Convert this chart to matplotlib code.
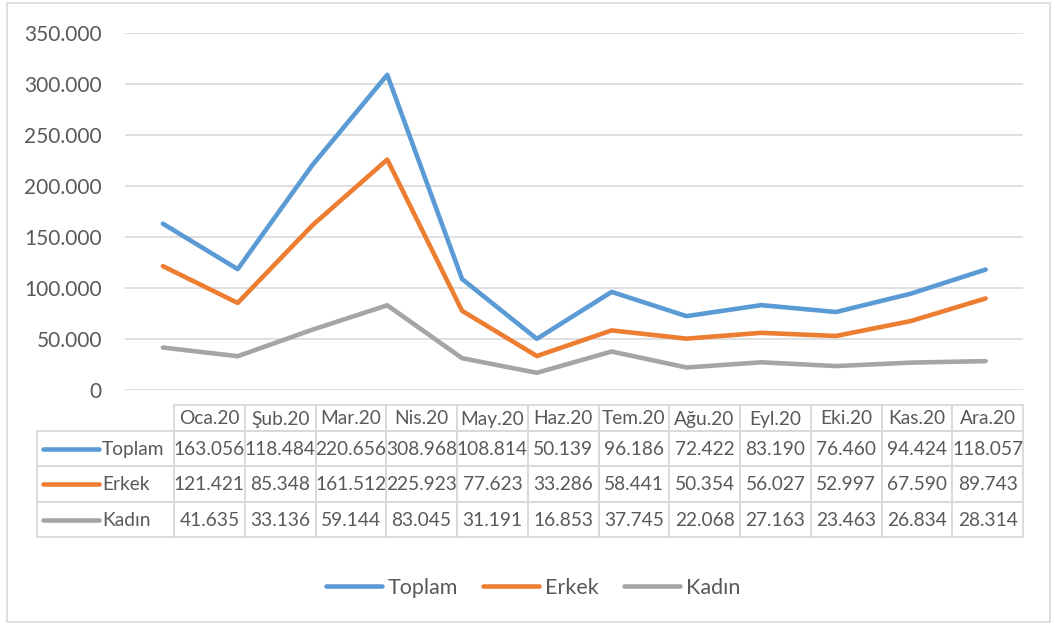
import matplotlib.pyplot as plt
from matplotlib.patches import Rectangle
from matplotlib.lines import Line2D

plt.rcParams['font.family'] = ['Lato', 'DejaVu Sans']

# data
months = ['Oca.20', 'Şub.20', 'Mar.20', 'Nis.20', 'May.20', 'Haz.20',
          'Tem.20', 'Ağu.20', 'Eyl.20', 'Eki.20', 'Kas.20', 'Ara.20']
toplam = [163056, 118484, 220656, 308968, 108814, 50139, 96186, 72422, 83190, 76460, 94424, 118057]
erkek = [121421, 85348, 161512, 225923, 77623, 33286, 58441, 50354, 56027, 52997, 67590, 89743]
kadin = [41635, 33136, 59144, 83045, 31191, 16853, 37745, 22068, 27163, 23463, 26834, 28314]
series_names = ['Toplam', 'Erkek', 'Kadın']
colors = ['#5B9BD5', '#ED7D31', '#A5A5A5']
y_ticks = [0, 50000, 100000, 150000, 200000, 250000, 300000, 350000]

TXT = '#595959'
GRID = '#D9D9D9'
W, H = 1055, 627


def fmt(v):
    return f"{v:,.0f}".replace(',', '.')


fig = plt.figure(figsize=(W / 100, H / 100), dpi=100)

# pixel-space overlay for frame + data table
ov = fig.add_axes([0, 0, 1, 1])
ov.set_xlim(0, W)
ov.set_ylim(H, 0)
ov.axis('off')
ov.add_patch(Rectangle((7, 3), 1043, 619, fill=False, ec=GRID, lw=1.2))

# main line chart
ax = fig.add_axes([125.5 / W, (H - 390) / H, (1023 - 125.5) / W, (390 - 33) / H])
x = list(range(len(months)))
for vals, name, c in zip([toplam, erkek, kadin], series_names, colors):
    ax.plot(x, vals, color=c, lw=3.3, solid_capstyle='round', solid_joinstyle='round', label=name)
ax.set_xlim(-0.5, len(months) - 0.5)
ax.set_ylim(0, 350000)
ax.set_yticks(y_ticks)
ax.set_yticklabels([fmt(v) for v in y_ticks], fontsize=15, color=TXT)
ax.tick_params(axis='y', length=0, pad=17)
ax.set_xticks([])
ax.yaxis.grid(True, color=GRID, lw=1.2)
ax.set_axisbelow(True)
for s in ax.spines.values():
    s.set_visible(False)
ax.patch.set_alpha(0)

# data table
col0, colw = 174, 70.75
lab_left = 37
row_edges = [405, 431, 466, 502, 537]
ncol = len(months)
tab_kw = dict(fill=False, ec=GRID, lw=1.3)
for j, m in enumerate(months):
    cx = col0 + j * colw
    ov.add_patch(Rectangle((cx, row_edges[0]), colw, row_edges[1] - row_edges[0], **tab_kw))
    ov.text(cx + colw / 2, (row_edges[0] + row_edges[1]) / 2 + 1, m, ha='center', va='center',
            fontsize=13.8, color=TXT)
for i, (vals, name, c) in enumerate(zip([toplam, erkek, kadin], series_names, colors)):
    y0, y1 = row_edges[i + 1], row_edges[i + 2]
    yc = (y0 + y1) / 2 + 1
    ov.add_patch(Rectangle((lab_left, y0), col0 - lab_left, y1 - y0, **tab_kw))
    ov.add_line(Line2D([43, 99], [yc - 1, yc - 1], color=c, lw=3.3, solid_capstyle='round'))
    ov.text(102, yc, name, ha='left', va='center', fontsize=13.8, color=TXT)
    for j, v in enumerate(vals):
        cx = col0 + j * colw
        ov.add_patch(Rectangle((cx, y0), colw, y1 - y0, **tab_kw))
        ov.text(cx + colw / 2, yc, fmt(v), ha='center', va='center', fontsize=13.8, color=TXT)

# legend
handles, labels = ax.get_legend_handles_labels()
leg = fig.legend(handles, labels, loc='center', bbox_to_anchor=(533 / W, (H - 588) / H), ncol=3,
                 frameon=False, fontsize=15.5, handlelength=2.6, handletextpad=0.25,
                 columnspacing=1.2)
for t in leg.get_texts():
    t.set_color(TXT)

fig.savefig('out.png', dpi=100)
